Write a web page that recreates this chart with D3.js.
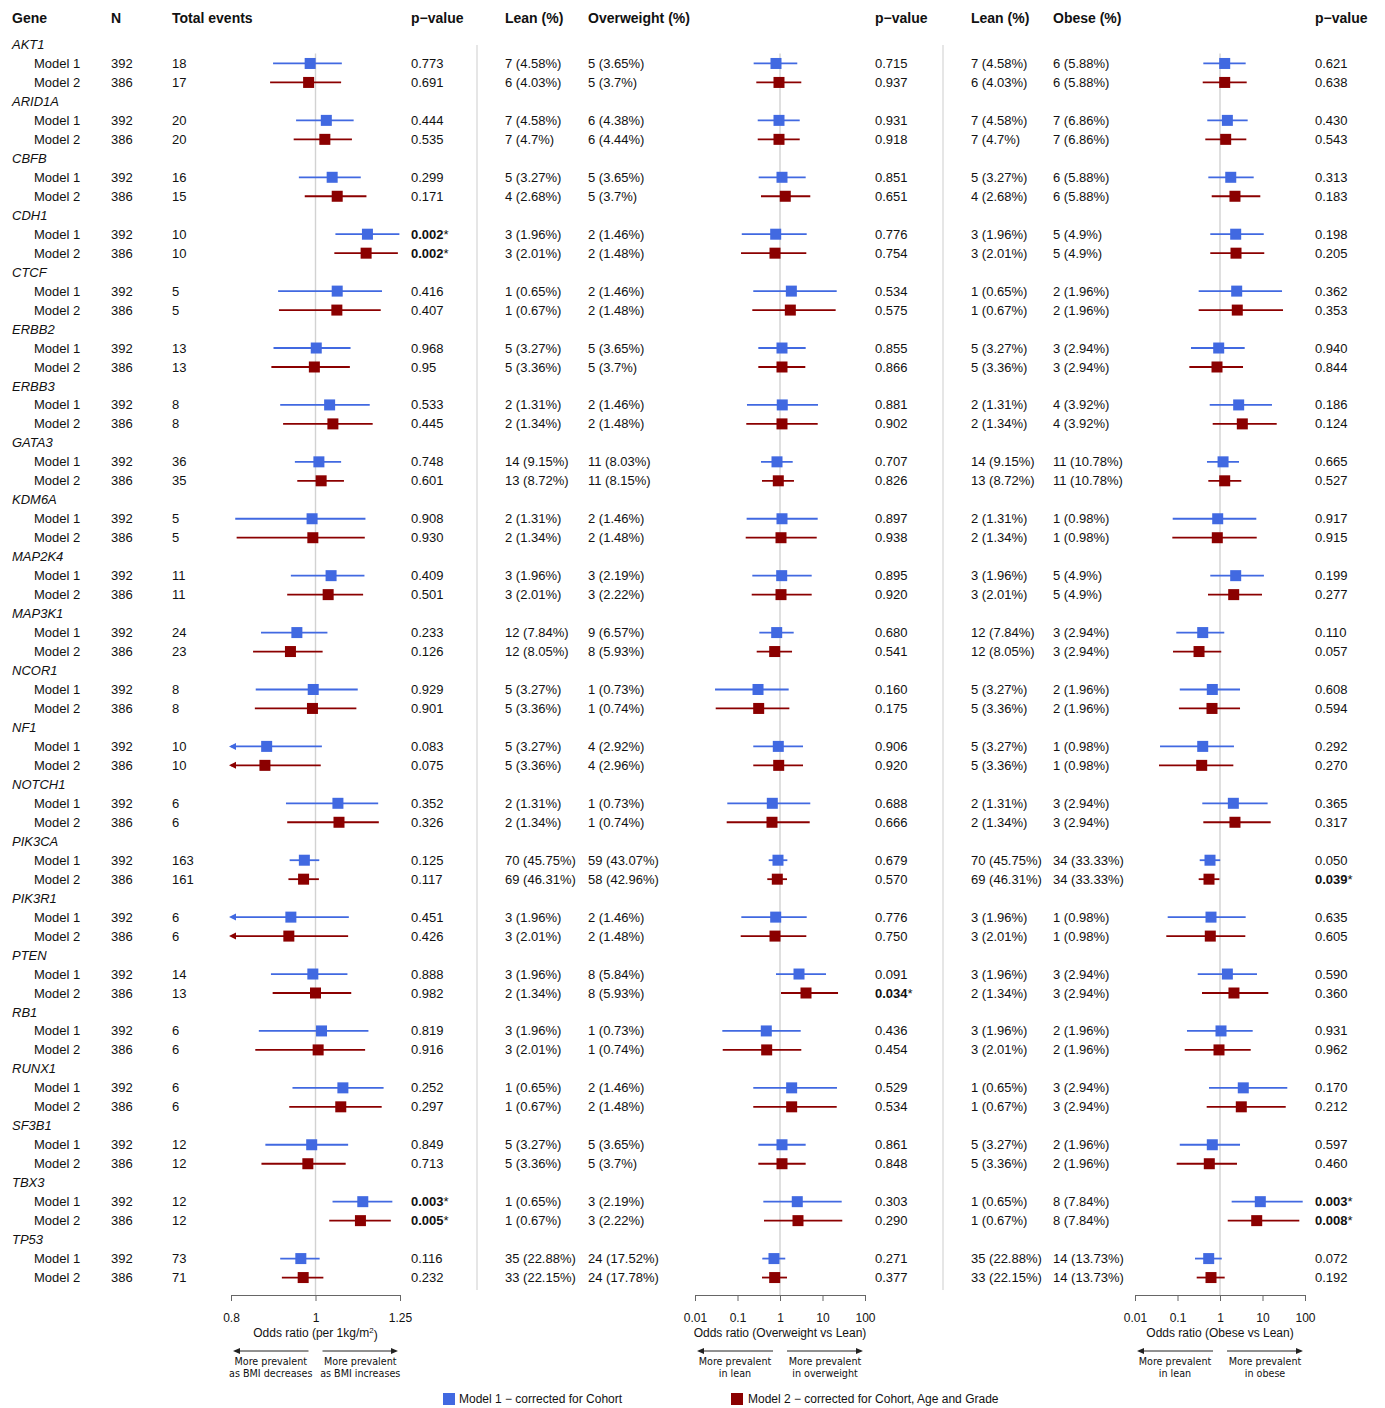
<!DOCTYPE html>
<html>
<head>
<meta charset="utf-8">
<script src="https://cdn.jsdelivr.net/npm/d3@7"></script>
<style>
  body { margin: 0; background: #fff; }
  text { font-family: "Liberation Sans", Arial, Helvetica, sans-serif; fill: #111; }
</style>
</head>
<body>
<svg id="chart" width="1385" height="1408"></svg>
<script>
// ---------------- data ----------------
const genes = ["AKT1","ARID1A","CBFB","CDH1","CTCF","ERBB2","ERBB3","GATA3","KDM6A","MAP2K4",
  "MAP3K1","NCOR1","NF1","NOTCH1","PIK3CA","PIK3R1","PTEN","RB1","RUNX1","SF3B1","TBX3","TP53"];
const models = ["Model 1", "Model 2"];
const sampleN = [392, 386];

// total events per gene, [Model 1, Model 2]
const totalEvents = [[18,17],[20,20],[16,15],[10,10],[5,5],[13,13],[8,8],[36,35],[5,5],[11,11],
  [24,23],[8,8],[10,10],[6,6],[163,161],[6,6],[14,13],[6,6],[6,6],[12,12],[12,12],[73,71]];

// continuous BMI model (odds ratio per 1 kg/m2)
const orBMI = [[0.986,0.982],[1.029,1.025],[1.045,1.059],[1.147,1.143],[1.059,1.058],[1.002,0.997],
  [1.038,1.047],[1.009,1.015],[0.991,0.993],[1.042,1.034],[0.952,0.936],[0.994,0.992],[0.879,0.875],
  [1.061,1.064],[0.971,0.969],[0.937,0.932],[0.993,1.000],[1.016,1.007],[1.075,1.069],[0.990,0.980],
  [1.133,1.126],[0.962,0.968]];
const loBMI = [[0.894,0.887],[0.950,0.944],[0.957,0.972],[1.054,1.051],[0.906,0.908],[0.895,0.890],
  [0.911,0.918],[0.947,0.953],[0.809,0.812],[0.937,0.928],[0.866,0.848],[0.854,0.852],[0.76,0.75],
  [0.925,0.928],[0.934,0.931],[0.78,0.77],[0.889,0.893],[0.861,0.853],[0.941,0.933],[0.876,0.867],
  [1.046,1.037],[0.911,0.915]];
const hiBMI = [[1.072,1.070],[1.106,1.101],[1.127,1.144],[1.248,1.243],[1.192,1.188],[1.097,1.095],
  [1.154,1.163],[1.070,1.078],[1.141,1.139],[1.138,1.134],[1.032,1.019],[1.118,1.114],[1.017,1.014],
  [1.180,1.182],[1.010,1.009],[1.092,1.090],[1.088,1.099],[1.150,1.140],[1.197,1.191],[1.090,1.083],
  [1.225,1.220],[1.011,1.021]];
const pBMI = [["0.773","0.691"],["0.444","0.535"],["0.299","0.171"],["0.002","0.002"],["0.416","0.407"],
  ["0.968","0.95"],["0.533","0.445"],["0.748","0.601"],["0.908","0.930"],["0.409","0.501"],
  ["0.233","0.126"],["0.929","0.901"],["0.083","0.075"],["0.352","0.326"],["0.125","0.117"],
  ["0.451","0.426"],["0.888","0.982"],["0.819","0.916"],["0.252","0.297"],["0.849","0.713"],
  ["0.003","0.005"],["0.116","0.232"]];

// lean group counts and percentages
const leanN = [[7,6],[7,7],[5,4],[3,3],[1,1],[5,5],[2,2],[14,13],[2,2],[3,3],[12,12],[5,5],[5,5],
  [2,2],[70,69],[3,3],[3,2],[3,3],[1,1],[5,5],[1,1],[35,33]];
const leanPct = [[4.58,4.03],[4.58,4.7],[3.27,2.68],[1.96,2.01],[0.65,0.67],[3.27,3.36],[1.31,1.34],
  [9.15,8.72],[1.31,1.34],[1.96,2.01],[7.84,8.05],[3.27,3.36],[3.27,3.36],[1.31,1.34],[45.75,46.31],
  [1.96,2.01],[1.96,1.34],[1.96,2.01],[0.65,0.67],[3.27,3.36],[0.65,0.67],[22.88,22.15]];

// overweight vs lean
const owN = [[5,5],[6,6],[5,5],[2,2],[2,2],[5,5],[2,2],[11,11],[2,2],[3,3],[9,8],[1,1],[4,4],
  [1,1],[59,58],[2,2],[8,8],[1,1],[2,2],[5,5],[3,3],[24,24]];
const owPct = [[3.65,3.7],[4.38,4.44],[3.65,3.7],[1.46,1.48],[1.46,1.48],[3.65,3.7],[1.46,1.48],
  [8.03,8.15],[1.46,1.48],[2.19,2.22],[6.57,5.93],[0.73,0.74],[2.92,2.96],[0.73,0.74],[43.07,42.96],
  [1.46,1.48],[5.84,5.93],[0.73,0.74],[1.46,1.48],[3.65,3.7],[2.19,2.22],[17.52,17.78]];
const orOW = [[0.805,0.947],[0.947,0.947],[1.114,1.33],[0.792,0.763],[1.85,1.75],[1.114,1.114],
  [1.13,1.114],[0.850,0.912],[1.114,1.056],[1.096,1.056],[0.836,0.750],[0.304,0.315],[0.912,0.932],
  [0.659,0.648],[0.897,0.864],[0.792,0.763],[2.80,4.09],[0.476,0.486],[1.88,1.88],[1.114,1.114],
  [2.55,2.65],[0.722,0.750]];
const loOW = [[0.240,0.277],[0.299,0.299],[0.315,0.357],[0.126,0.121],[0.235,0.223],[0.309,0.309],
  [0.167,0.161],[0.357,0.377],[0.164,0.156],[0.223,0.216],[0.326,0.283],[0.0296,0.0307],[0.235,0.235],
  [0.0575,0.0557],[0.542,0.502],[0.123,0.119],[0.805,1.056],[0.0439,0.0449],[0.235,0.235],
  [0.309,0.309],[0.405,0.420],[0.383,0.377]];
const hiOW = [[2.55,3.17],[2.91,2.91],[4.02,5.16],[4.25,4.16],[21.6,20.4],[4.02,3.94],[7.84,7.71],
  [1.99,2.13],[7.71,7.31],[5.57,5.57],[2.10,1.92],[1.60,1.66],[3.48,3.48],[5.16,5.00],[1.49,1.46],
  [4.25,4.16],[12.1,23.2],[3.07,3.17],[21.9,21.6],[4.02,4.02],[28.3,29.2],[1.33,1.46]];
const pOW = [["0.715","0.937"],["0.931","0.918"],["0.851","0.651"],["0.776","0.754"],["0.534","0.575"],
  ["0.855","0.866"],["0.881","0.902"],["0.707","0.826"],["0.897","0.938"],["0.895","0.920"],
  ["0.680","0.541"],["0.160","0.175"],["0.906","0.920"],["0.688","0.666"],["0.679","0.570"],
  ["0.776","0.750"],["0.091","0.034"],["0.436","0.454"],["0.529","0.534"],["0.861","0.848"],
  ["0.303","0.290"],["0.271","0.377"]];

// obese vs lean
const obN = [[6,6],[7,7],[6,6],[5,5],[2,2],[3,3],[4,4],[11,11],[1,1],[5,5],[3,3],[2,2],[1,1],
  [3,3],[34,34],[1,1],[3,3],[2,2],[3,3],[2,2],[8,8],[14,14]];
const obPct = [[5.88,5.88],[6.86,6.86],[5.88,5.88],[4.9,4.9],[1.96,1.96],[2.94,2.94],[3.92,3.92],
  [10.78,10.78],[0.98,0.98],[4.9,4.9],[2.94,2.94],[1.96,1.96],[0.98,0.98],[2.94,2.94],[33.33,33.33],
  [0.98,0.98],[2.94,2.94],[1.96,1.96],[2.94,2.94],[1.96,1.96],[7.84,7.84],[13.73,13.73]];
const orOB = [[1.29,1.29],[1.49,1.36],[1.79,2.25],[2.34,2.38],[2.47,2.55],[0.932,0.850],[2.75,3.35],
  [1.18,1.29],[0.883,0.864],[2.34,2.10],[0.392,0.321],[0.659,0.648],[0.392,0.371],[2.06,2.25],
  [0.582,0.551],[0.614,0.591],[1.49,2.13],[1.056,0.947],[3.53,3.17],[0.659,0.560],[8.88,7.31],
  [0.542,0.614]];
const loOB = [[0.405,0.392],[0.502,0.451],[0.531,0.638],[0.591,0.591],[0.315,0.315],[0.208,0.190],
  [0.573,0.673],[0.494,0.531],[0.0771,0.0755],[0.591,0.522],[0.0937,0.0784],[0.113,0.108],
  [0.0388,0.0367],[0.383,0.405],[0.333,0.315],[0.0588,0.0545],[0.299,0.377],[0.167,0.148],
  [0.551,0.486],[0.113,0.0957],[1.88,1.52],[0.258,0.283]];
const hiOB = [[4.02,4.25],[4.48,4.16],[6.21,8.88],[10.7,11.0],[28.8,30.4],[3.81,3.48],[16.7,21.6],
  [2.80,3.17],[7.15,7.31],[10.8,9.73],[1.26,1.07],[2.96,2.96],[2.13,2.06],[13.2,15.6],[1.01,0.97],
  [4.02,3.94],[7.42,13.7],[5.88,5.28],[38.3,35.2],[2.96,2.51],[88.3,73.5],[1.10,1.29]];
const pOB = [["0.621","0.638"],["0.430","0.543"],["0.313","0.183"],["0.198","0.205"],["0.362","0.353"],
  ["0.940","0.844"],["0.186","0.124"],["0.665","0.527"],["0.917","0.915"],["0.199","0.277"],
  ["0.110","0.057"],["0.608","0.594"],["0.292","0.270"],["0.365","0.317"],["0.050","0.039"],
  ["0.635","0.605"],["0.590","0.360"],["0.931","0.962"],["0.170","0.212"],["0.597","0.460"],
  ["0.003","0.008"],["0.072","0.192"]];

const bmiTicks = [0.8, 1, 1.25];
const logTicks = [0.01, 0.1, 1, 10, 100];
const legendLabels = ["Model 1 \u2212 corrected for Cohort", "Model 2 \u2212 corrected for Cohort, Age and Grade"];
const modelColors = ["#4169E1", "#8B0000"];

// ---------------- layout ----------------
const svg = d3.select("#chart");
const rowCount = genes.length * 3;
const y = d3.scaleLinear().domain([0, rowCount - 1]).range([44.5, 44.5 + (rowCount - 1) * 18.97]);
const axisY = 1295;
const headerY = 18;

const panels = [
  { x: d3.scaleLog().domain([0.8, 1.25]).range([231, 400]), or: orBMI, lo: loBMI, hi: hiBMI,
    ticks: bmiTicks, fmt: d => String(d), title: "Odds ratio (per 1kg/m", sup: "2",
    left: ["More prevalent", "as BMI decreases"], right: ["More prevalent", "as BMI increases"] },
  { x: d3.scaleLog().domain([0.01, 100]).range([695, 865]), or: orOW, lo: loOW, hi: hiOW,
    ticks: logTicks, fmt: d => String(d), title: "Odds ratio (Overweight vs Lean)",
    left: ["More prevalent", "in lean"], right: ["More prevalent", "in overweight"] },
  { x: d3.scaleLog().domain([0.01, 100]).range([1135, 1305]), or: orOB, lo: loOB, hi: hiOB,
    ticks: logTicks, fmt: d => String(d), title: "Odds ratio (Obese vs Lean)",
    left: ["More prevalent", "in lean"], right: ["More prevalent", "in obese"] }
];

// ---------------- headers ----------------
const headers = [
  ["Gene", 12], ["N", 111], ["Total events", 172], ["p\u2212value", 411],
  ["Lean (%)", 505], ["Overweight (%)", 588], ["p\u2212value", 875],
  ["Lean (%)", 971], ["Obese (%)", 1053], ["p\u2212value", 1315]
];
svg.append("g").selectAll("text").data(headers).join("text")
  .attr("x", d => d[1]).attr("y", headerY).attr("dy", "0.35em")
  .style("font-size", "14px").style("font-weight", "bold")
  .text(d => d[0]);

// panel separators
svg.append("g").selectAll("line").data([477, 943]).join("line")
  .attr("x1", d => d).attr("x2", d => d).attr("y1", 45).attr("y2", 1290)
  .attr("stroke", "#dedede").attr("stroke-width", 1.5);

// reference lines at OR = 1
panels.forEach(p => {
  svg.append("line")
    .attr("x1", p.x(1)).attr("x2", p.x(1))
    .attr("y1", y(1) - 10).attr("y2", axisY)
    .attr("stroke", "#d2d2d2").attr("stroke-width", 1.4);
});

// ---------------- table text ----------------
const textG = svg.append("g").style("font-size", "13px");
const pct = (n, v) => `${n} (${v}%)`;

function pText(sel, x, yy, p) {
  const t = sel.append("text").attr("x", x).attr("y", yy).attr("dy", "0.35em");
  if (+p < 0.05) {
    t.append("tspan").style("font-weight", "bold").text(p);
    t.append("tspan").text("*");
  } else {
    t.text(p);
  }
}

genes.forEach((g, gi) => {
  textG.append("text").attr("x", 12).attr("y", y(gi * 3)).attr("dy", "0.35em")
    .style("font-style", "italic").text(g);
  models.forEach((m, mi) => {
    const yy = y(gi * 3 + 1 + mi);
    const cells = [
      [m, 34], [sampleN[mi], 111], [totalEvents[gi][mi], 172],
      [pct(leanN[gi][mi], leanPct[gi][mi]), 505], [pct(owN[gi][mi], owPct[gi][mi]), 588],
      [pct(leanN[gi][mi], leanPct[gi][mi]), 971], [pct(obN[gi][mi], obPct[gi][mi]), 1053]
    ];
    cells.forEach(c => textG.append("text").attr("x", c[1]).attr("y", yy).attr("dy", "0.35em").text(c[0]));
    pText(textG, 411, yy, pBMI[gi][mi]);
    pText(textG, 875, yy, pOW[gi][mi]);
    pText(textG, 1315, yy, pOB[gi][mi]);
  });
});

// ---------------- forest marks ----------------
const box = 11;
panels.forEach(p => {
  const [d0, d1] = p.x.domain();
  const g = svg.append("g");
  genes.forEach((gname, gi) => {
    models.forEach((m, mi) => {
      const yy = y(gi * 3 + 1 + mi);
      const col = modelColors[mi];
      const lo = p.lo[gi][mi], hi = p.hi[gi][mi];
      const xl = p.x(Math.max(lo, d0)), xh = p.x(Math.min(hi, d1));
      g.append("line").attr("x1", xl).attr("x2", xh).attr("y1", yy).attr("y2", yy)
        .attr("stroke", col).attr("stroke-width", 1.8);
      if (lo < d0) {
        g.append("path")
          .attr("d", `M${xl - 2},${yy} L${xl + 5},${yy - 3.5} L${xl + 5},${yy + 3.5} Z`)
          .attr("fill", col);
      }
      const xo = p.x(p.or[gi][mi]);
      g.append("rect").attr("x", xo - box / 2).attr("y", yy - box / 2)
        .attr("width", box).attr("height", box).attr("fill", col);
    });
  });

  // axis
  const ax = svg.append("g").attr("transform", `translate(0,${axisY})`)
    .call(d3.axisBottom(p.x).tickValues(p.ticks).tickFormat(p.fmt)
      .tickSize(6).tickSizeOuter(6).tickPadding(12));
  ax.select(".domain").attr("stroke", "#666");
  ax.selectAll(".tick line").attr("stroke", "#666");
  ax.selectAll(".tick text").style("font-size", "12px")
    .style("font-family", "'Liberation Sans', Arial, sans-serif").attr("fill", "#222");

  const cx = p.x(1);
  const [r0, r1] = p.x.range();
  const title = svg.append("text").attr("x", cx).attr("y", 1337)
    .attr("text-anchor", "middle").style("font-size", "12px");
  title.append("tspan").text(p.title);
  if (p.sup) {
    title.append("tspan").attr("dy", "-0.45em").style("font-size", "8px").text(p.sup);
    title.append("tspan").attr("dy", "0.45em").text(")");
  }

  // direction arrows
  const arrowY = 1351;
  const arrows = [
    { from: cx - 7, to: r0 + 2, lines: p.left },
    { from: cx + 7, to: r1 - 2, lines: p.right }
  ];
  arrows.forEach(a => {
    const dir = Math.sign(a.to - a.from);
    svg.append("line").attr("x1", a.from).attr("x2", a.to - dir * 5)
      .attr("y1", arrowY).attr("y2", arrowY).attr("stroke", "#222").attr("stroke-width", 1);
    svg.append("path")
      .attr("d", `M${a.to},${arrowY} L${a.to - dir * 7},${arrowY - 3} L${a.to - dir * 7},${arrowY + 3} Z`)
      .attr("fill", "#222");
    const mid = (a.from + a.to) / 2;
    a.lines.forEach((s, k) => {
      svg.append("text").attr("x", mid).attr("y", 1365 + k * 11.5)
        .attr("text-anchor", "middle")
        .style("font-family", "'DejaVu Sans', Verdana, sans-serif")
        .style("font-size", "9.6px").attr("fill", "#333").text(s);
    });
  });
});

// ---------------- legend ----------------
const legendX = [443, 731];
const lg = svg.append("g");
legendLabels.forEach((lab, i) => {
  lg.append("rect").attr("x", legendX[i]).attr("y", 1393).attr("width", 12).attr("height", 12)
    .attr("fill", modelColors[i]);
  lg.append("text").attr("x", legendX[i] + 16 + (i ? 1 : 0)).attr("y", 1399).attr("dy", "0.35em")
    .style("font-size", "12px").text(lab);
});
</script>
</body>
</html>
